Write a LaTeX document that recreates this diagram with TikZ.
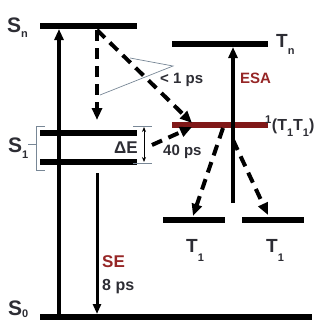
\documentclass[tikz,border=0pt]{standalone}
\usepackage{fontspec}
\setmainfont{Liberation Sans}
\usetikzlibrary{arrows.meta,positioning,calc}
\definecolor{txtgray}{RGB}{45,45,52}
\definecolor{ttred}{RGB}{128,24,24}
\definecolor{esared}{RGB}{150,38,38}
\definecolor{brgray}{RGB}{120,135,150}
\newcommand{\lsub}[2][6pt]{\raisebox{-#1}{\fontsize{11}{11}\selectfont #2}}

\begin{document}
\begin{tikzpicture}[x=1pt,y=-1pt,
    level/.style={line width=6pt},
    pump/.style={line width=3.5pt,-{Triangle[length=11pt,width=9pt]}},
    relax/.style={line width=4pt,dash pattern=on 11pt off 7pt,-{Triangle[length=12pt,width=10pt]}},
    lbl/.style={font=\bfseries\fontsize{21}{21}\selectfont,text=txtgray,inner sep=0pt,anchor=base west},
    tlbl/.style={font=\bfseries\fontsize{19}{19}\selectfont,text=txtgray,inner sep=0pt,anchor=base west},
    small/.style={font=\bfseries\fontsize{15}{15}\selectfont,text=txtgray,inner sep=0pt,anchor=base west},
    thinline/.style={brgray,line width=0.7pt}]
    \useasboundingbox (0,0) rectangle (331,324);

    % Niveaus
    \draw[level] (40,26) -- (137,26);
    \draw[level] (40,133) -- (137,133);
    \draw[level] (40,162) -- (137,162);
    \draw[level] (40,317) -- (312,317);
    \draw[level] (172,44) -- (268,44);
    \draw[level,ttred] (172,125) -- (268,125);
    \draw[level] (163,220) -- (225,220);
    \draw[level] (242,220) -- (304,220);

    % Beschriftung der Niveaus
    \node[lbl] (sn) at (7,32) {S\lsub[5pt]{n}};
    \node[lbl] (s1) at (8,152) {S\lsub{1}};
    \node[lbl] (s0) at (8,315) {S\lsub[2pt]{0}};
    \node[tlbl] (tn) at (276,47) {T\lsub[7pt]{n}};
    \node[tlbl,font=\bfseries\fontsize{16}{16}\selectfont] (tt) at (265,130)
        {\textsuperscript{1}(T\lsub[6pt]{1}T\lsub[6pt]{1})};
    \node[tlbl] (t1a) at (186,252) {T\lsub[9pt]{1}};
    \node[tlbl] (t1b) at (266,252) {T\lsub[9pt]{1}};

    % Endpunkte
    \coordinate (pump0) at (59,317);
    \coordinate (pumpn) at (59,29);
    \coordinate (esa0) at (233,203);
    \coordinate (esan) at (233,47);
    \coordinate (se1) at (97,173);
    \coordinate (se0) at (97,314);
    \coordinate (rsn) at (97,30);
    \coordinate (rs1) at (97,120);
    \coordinate (rtt) at (192,123);
    \coordinate (rde) at (152,145);
    \coordinate (rtt2) at (192,127);
    \coordinate (fa) at (223,128);
    \coordinate (fb) at (233,140);
    \coordinate (ta) at (193,216);
    \coordinate (tb) at (268,215);

    % Pfeile
    \draw[pump] (pump0) -- (pumpn);
    \draw[pump] (esa0) -- (esan);
    \draw[line width=3pt,-{Triangle[length=10pt,width=8pt]}] (se1) -- (se0);
    \draw[relax] (rsn) -- (rs1);
    \draw[relax] (rsn) -- (rtt);
    \draw[relax] (rde) -- (rtt2);
    \draw[relax] (fa) -- (ta);
    \draw[relax] (fb) -- (tb);

    % Delta E
    \draw[thinline] (133,126) -- (152,126);
    \draw[thinline] (133,163) -- (152,163);
    \draw[line width=0.9pt,{Stealth[length=5pt,width=4pt]}-{Stealth[length=5pt,width=4pt]}]
        (144,127) -- (144,162);
    \node[small,font=\bfseries\fontsize{17}{17}\selectfont,anchor=base east] (de) at (138,153) {ΔE};

    % Klammer S1
    \draw[thinline] (45,126) -- (36,126) -- (36,170) -- (45,170);
    \draw[thinline] (28,144) -- (36,144);

    % Zeiten
    \draw[thinline] (130,58) -- (173,66) -- (100,95);
    \node[small] (t1ps) at (160,83) {< 1 ps};
    \node[small] (t40ps) at (163,155) {40 ps};
    \node[small,text=esared] (esa) at (240,83) {ESA};
    \node[small,text=esared,font=\bfseries\fontsize{17}{17}\selectfont] (se) at (102,267) {SE};
    \node[small,font=\bfseries\fontsize{16}{16}\selectfont] (t8ps) at (102,290) {8 ps};
\end{tikzpicture}
\end{document}
